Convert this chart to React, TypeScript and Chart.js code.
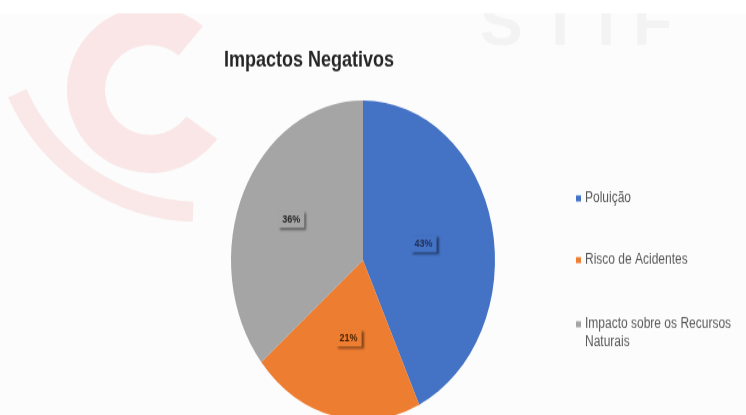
import React, { useEffect, useRef } from "react";
import { Chart, registerables } from "chart.js";

Chart.register(...registerables);

const titleText = "Impactos Negativos";
const categories = ["Poluição", "Risco de Acidentes", "Impacto sobre os Recursos Naturais"];
const values = [43, 21, 36];
const colors = ["#4472C4", "#ED7D31", "#A5A5A5"];
const labelColors = ["#1F2F55", "#4A2200", "#262626"];

const STRETCH = 1.21;
const CW = 746;
const CH = 350;

function wrap(ctx: CanvasRenderingContext2D, text: string, maxW: number): string[] {
  const words = text.split(" ");
  const lines: string[] = [];
  let cur = "";
  for (const w of words) {
    const t = cur ? cur + " " + w : w;
    if (ctx.measureText(t).width > maxW && cur) {
      lines.push(cur);
      cur = w;
    } else cur = t;
  }
  if (cur) lines.push(cur);
  return lines;
}

const decoPlugin = {
  id: "deco",
  beforeDraw(chart: any) {
    const ctx = chart.ctx as CanvasRenderingContext2D;
    ctx.save();
    ctx.fillStyle = "#ffffff";
    ctx.fillRect(0, 0, CW, CH);
    ctx.fillStyle = "#fcfcfc";
    ctx.fillRect(0, 11, CW, CH);
    ctx.beginPath();
    ctx.rect(0, 11, CW, CH);
    ctx.clip();
    // work in reference (stretched) coordinates
    ctx.scale(1, 1 / STRETCH);
    ctx.lineCap = "butt";
    // inner C
    ctx.strokeStyle = "rgba(246,185,185,0.32)";
    ctx.lineWidth = 38;
    ctx.beginPath();
    ctx.arc(150, 90, 64, Math.PI * 1.72, Math.PI * 0.2, true);
    ctx.stroke();
    // outer arc
    ctx.strokeStyle = "rgba(246,175,175,0.28)";
    ctx.lineWidth = 20;
    ctx.beginPath();
    ctx.arc(200, 12, 200, Math.PI * (156 / 180), Math.PI * (92 / 180), true);
    ctx.stroke();
    // faint grey letters
    ctx.fillStyle = "rgba(170,170,170,0.1)";
    ctx.font = "bold 64px 'Liberation Sans', Arial, sans-serif";
    ctx.textBaseline = "top";
    ctx.fillText("S T I F", 480, -5);
    ctx.restore();
  },
  afterDraw(chart: any) {
    const ctx = chart.ctx as CanvasRenderingContext2D;
    ctx.save();
    // title
    ctx.fillStyle = "#262626";
    ctx.font = "bold 18px 'Liberation Sans', Arial, sans-serif";
    ctx.textAlign = "center";
    ctx.textBaseline = "middle";
    ctx.fillText(titleText, 309, 50);

    // data labels
    const meta = chart.getDatasetMeta(0);
    const ds = chart.data.datasets[0];
    const factors = [0.47, 0.5, 0.6];
    ctx.font = "bold 9px 'Liberation Sans', Arial, sans-serif";
    meta.data.forEach((el: any, i: number) => {
      const mid = (el.startAngle + el.endAngle) / 2;
      const r = el.outerRadius * factors[i];
      const px = el.x + Math.cos(mid) * r;
      const py = el.y + Math.sin(mid) * r;
      const txt = ds.data[i] + "%";
      const w = ctx.measureText(txt).width;
      ctx.save();
      ctx.shadowColor = "rgba(0,0,0,0.45)";
      ctx.shadowOffsetX = 2;
      ctx.shadowOffsetY = 2;
      ctx.shadowBlur = 2;
      ctx.fillStyle = colors[i];
      ctx.fillRect(px - w / 2 - 4, py - 7, w + 8, 14);
      ctx.restore();
      ctx.fillStyle = labelColors[i];
      ctx.textAlign = "center";
      ctx.textBaseline = "middle";
      ctx.fillText(txt, px, py);
    });

    // legend
    ctx.font = "12px 'Liberation Sans', Arial, sans-serif";
    ctx.textAlign = "left";
    ctx.textBaseline = "middle";
    const ys = [164, 215, 268];
    chart.data.labels.forEach((lab: string, i: number) => {
      const y = ys[i];
      ctx.fillStyle = colors[i];
      ctx.fillRect(576, y - 2.5, 5, 5);
      ctx.fillStyle = "#595959";
      const lines = wrap(ctx, lab, 152);
      lines.forEach((ln, j) => ctx.fillText(ln, 585, y + j * 15));
    });
    ctx.restore();
  },
};

export default function App() {
  const ref = useRef<HTMLCanvasElement | null>(null);
  useEffect(() => {
    document.body.style.margin = "0";
    const canvas = ref.current!;
    canvas.width = CW;
    canvas.height = CH;
    const chart = new Chart(canvas, {
      type: "pie",
      data: {
        labels: categories,
        datasets: [
          {
            data: values,
            backgroundColor: colors,
            borderWidth: 0,
          },
        ],
      },
      options: {
        responsive: false,
        animation: false,
        devicePixelRatio: 1,
        layout: { padding: { top: 83, bottom: 3, left: 231, right: 251 } },
        plugins: {
          legend: { display: false },
          title: { display: false },
          tooltip: { enabled: false },
        },
      },
      plugins: [decoPlugin],
    });
    return () => chart.destroy();
  }, []);
  return (
    <div style={{ width: CW, height: 415, overflow: "hidden", position: "relative", background: "#fff" }}>
      <div style={{ transform: `scaleY(${STRETCH})`, transformOrigin: "0 0", width: CW, height: CH }}>
        <canvas ref={ref} style={{ width: CW, height: CH, display: "block" }} />
      </div>
    </div>
  );
}
